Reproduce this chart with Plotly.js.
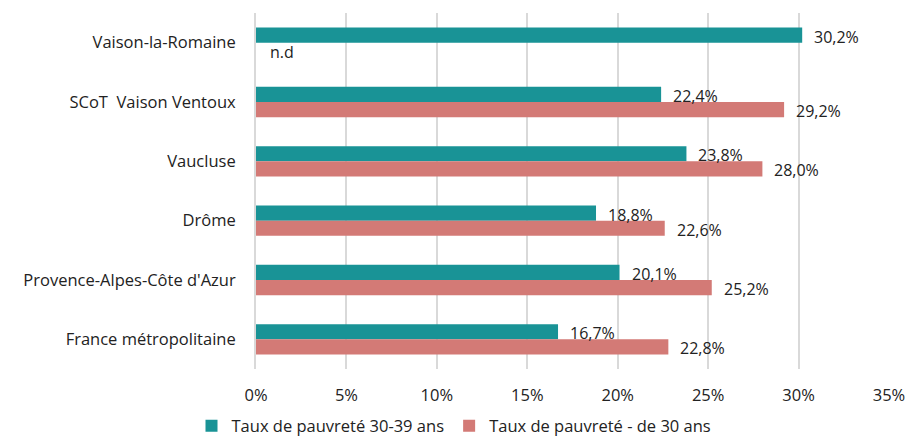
<!DOCTYPE html>
<html><head><meta charset="utf-8">
<script src="https://cdn.plot.ly/plotly-3.0.1.min.js"></script>
<style>html,body{margin:0;padding:0;background:#fff}#c{width:908px;height:446px}</style>
</head><body><div id="c"></div>
<script>
const categories = ["Vaison-la-Romaine","SCoT  Vaison Ventoux","Vaucluse","Drôme","Provence-Alpes-Côte d'Azur","France métropolitaine"];
const taux3039 = [30.2, 22.4, 23.8, 18.8, 20.1, 16.7];
const tauxMoins30 = [null, 29.2, 28.0, 22.6, 25.2, 22.8];
const seriesNames = ["Taux de pauvreté 30-39 ans","Taux de pauvreté - de 30 ans"];
const tickVals = [0,5,10,15,20,25,30,35];
const tickText = ["0%","5%","10%","15%","20%","25%","30%","35%"];
const missingLabel = "n.d";

const teal = "#199396", salmon = "#d37a76";
const font = "'Open Sans', Lato, sans-serif";
const fs = 16.5;
const fmt = v => v.toFixed(1).replace(".", ",") + "%";

const traces = [
  {type:"bar", orientation:"h", name:seriesNames[0], y:categories, x:taux3039,
   marker:{color:teal}, hoverinfo:"skip"},
  {type:"bar", orientation:"h", name:seriesNames[1], y:categories, x:tauxMoins30,
   marker:{color:salmon}, hoverinfo:"skip"}
];

const annotations = [];
categories.forEach((c,i)=>{
  if (taux3039[i] != null) annotations.push({x:taux3039[i], y:c, xref:"x", yref:"y", text:fmt(taux3039[i]),
    showarrow:false, xanchor:"left", xshift:10, yshift:6, font:{family:font,size:fs-0.5,color:"#222"}});
  if (tauxMoins30[i] != null) annotations.push({x:tauxMoins30[i], y:c, xref:"x", yref:"y", text:fmt(tauxMoins30[i]),
    showarrow:false, xanchor:"left", xshift:10, yshift:-9, font:{family:font,size:fs-0.5,color:"#222"}});
  else annotations.push({x:0, y:c, xref:"x", yref:"y", text:missingLabel,
    showarrow:false, xanchor:"left", xshift:12, yshift:-9, font:{family:font,size:fs-0.5,color:"#222"}});
});

const layout = {
  width:908, height:446,
  margin:{l:256, r:19, t:13, b:77},
  paper_bgcolor:"#fff", plot_bgcolor:"#fff",
  barmode:"group", bargap:0.49, bargroupgap:0,
  font:{family:font, size:fs, color:"#222"},
  showlegend:true,
  legend:{orientation:"h", xref:"container", x:0.5, xanchor:"center", yref:"container", y:0.045, yanchor:"middle",
    font:{family:font,size:fs,color:"#222"}, itemwidth:30, traceorder:"normal"},
  xaxis:{range:[0,35], tickvals:tickVals, ticktext:tickText, showgrid:true, gridcolor:"#d9d9d9", gridwidth:2,
    zeroline:false, showline:false, ticks:"", ticklabelstandoff:14, tickfont:{family:font,size:fs,color:"#222"}, fixedrange:true},
  yaxis:{type:"category", autorange:"reversed", showgrid:false, zeroline:false,
    showline:true, linecolor:"#d9d9d9", linewidth:2, ticks:"", ticklabelstandoff:15,
    tickfont:{family:font,size:fs,color:"#222"}, fixedrange:true},
  annotations:annotations
};
Plotly.newPlot("c", traces, layout, {displayModeBar:false, staticPlot:true});
</script></body></html>
